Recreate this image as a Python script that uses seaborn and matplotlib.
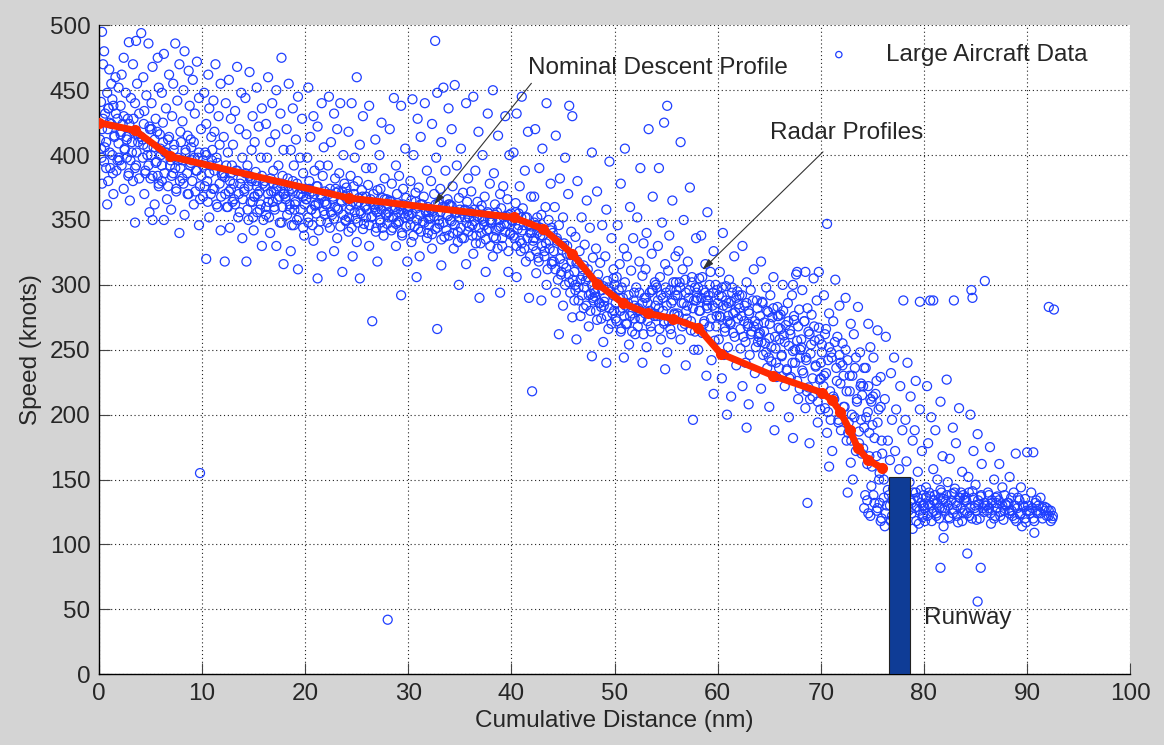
import pandas as pd
from matplotlib import pyplot as plt
import seaborn as sns

# radar track samples, (cumulative distance nm, speed knots)
# outer spread of the cloud
radar_00_10 = [
    (0.3, 495), (0.5, 480), (0.4, 470), (1.6, 460), (1.2, 455), (0.8, 448), (0.2, 441), (1.4, 438), (0.6, 432),
    (1.8, 428), (1.0, 425), (0.3, 420), (1.5, 415), (0.7, 410), (0.2, 405), (1.3, 400), (1.9, 398), (0.5, 395),
    (1.1, 390), (1.7, 388), (0.9, 380), (0.3, 378), (1.4, 370), (0.8, 362), (1.9, 452), (1.0, 466), (1.3, 443),
    (0.9, 436),
    (3.6, 488), (2.9, 487), (2.4, 475), (3.3, 470), (2.2, 462), (3.7, 455), (2.6, 448), (3.1, 444), (2.1, 438),
    (3.9, 432), (2.8, 428), (2.3, 424), (3.4, 418), (2.7, 414), (3.8, 410), (2.5, 405), (3.2, 402), (2.0, 396),
    (3.6, 392), (2.9, 386), (3.3, 380), (2.4, 374), (3.0, 365), (3.5, 348), (3.5, 440), (2.1, 416), (2.7, 398),
    (4.1, 494), (4.8, 486), (5.7, 475), (5.2, 468), (4.3, 460), (5.8, 452), (4.6, 446), (5.1, 440), (4.4, 434),
    (5.5, 428), (4.9, 422), (5.9, 416), (4.2, 412), (5.3, 406), (4.7, 400), (5.6, 395), (4.5, 388), (5.0, 382),
    (5.8, 376), (4.4, 370), (5.4, 362), (4.9, 356), (5.2, 350), (5.7, 384), (4.3, 408), (5.1, 420),
    (7.4, 486), (6.3, 478), (7.8, 470), (6.8, 462), (7.2, 455), (6.1, 448), (7.6, 442), (6.5, 436), (7.1, 430),
    (6.2, 425), (7.9, 418), (6.7, 412), (7.3, 408), (6.4, 402), (7.7, 396), (6.9, 392), (7.2, 386), (6.1, 380),
    (7.5, 374), (6.6, 366), (7.0, 358), (6.3, 350), (7.8, 340), (6.0, 400), (7.9, 390),
    (8.3, 480), (9.5, 472), (8.7, 465), (9.1, 458), (8.2, 450), (9.7, 444), (8.8, 438), (9.3, 432), (8.1, 426),
    (9.9, 420), (8.6, 415), (9.2, 410), (8.4, 404), (9.6, 398), (8.9, 394), (9.4, 388), (8.1, 382), (9.8, 376),
    (8.6, 370), (9.2, 362), (8.3, 354), (9.7, 346), (9.8, 155), (8.9, 412), (9.0, 396),
]
radar_10_20 = [
    (11.3, 470), (10.6, 462), (11.8, 455), (10.2, 448), (11.1, 442), (10.7, 436), (11.6, 430), (10.4, 424),
    (11.2, 418), (10.9, 414), (11.7, 408), (10.3, 402), (11.4, 398), (10.8, 392), (11.9, 386), (10.5, 380),
    (11.2, 374), (10.1, 368), (11.5, 360), (10.7, 352), (11.8, 342), (10.4, 320), (10.1, 396), (11.0, 404),
    (13.4, 468), (12.6, 458), (13.8, 448), (12.3, 440), (13.2, 434), (12.8, 428), (13.6, 420), (12.1, 414),
    (13.0, 408), (12.5, 402), (13.9, 398), (12.9, 392), (13.3, 388), (12.2, 383), (13.7, 378), (12.6, 372),
    (13.1, 366), (12.4, 360), (13.5, 352), (12.7, 344), (13.9, 336), (12.2, 318), (12.8, 386),
    (14.6, 464), (15.3, 452), (14.2, 444), (15.8, 436), (14.9, 430), (15.5, 422), (14.3, 416), (15.1, 410),
    (14.8, 404), (15.7, 398), (14.4, 392), (15.2, 387), (14.7, 382), (15.9, 378), (14.1, 374), (15.4, 370),
    (14.9, 364), (15.6, 358), (14.5, 350), (15.0, 342), (15.8, 330), (14.3, 318), (14.6, 384), (15.1, 368),
    (15.3, 376),
    (17.7, 475), (16.4, 460), (17.2, 450), (16.8, 440), (17.6, 432), (16.2, 424), (17.1, 416), (16.6, 410),
    (17.9, 404), (16.3, 398), (17.4, 392), (16.9, 388), (17.8, 384), (16.1, 380), (17.3, 376), (16.7, 372),
    (17.5, 368), (16.4, 364), (17.0, 360), (16.2, 354), (17.7, 348), (16.6, 340), (17.2, 330), (17.9, 316),
    (16.9, 378), (17.9, 370),
    (18.4, 455), (19.3, 445), (18.8, 436), (19.7, 428), (18.2, 420), (19.1, 412), (18.6, 404), (19.5, 398),
    (18.9, 392), (19.8, 386), (18.3, 382), (19.2, 378), (18.7, 374), (19.6, 370), (18.1, 366), (19.0, 362),
    (18.5, 358), (19.4, 352), (18.9, 346), (19.9, 338), (18.6, 326), (19.3, 312), (18.4, 372), (19.8, 368),
    (18.8, 380),
]
radar_20_30 = [
    (20.3, 452), (21.6, 440), (20.8, 430), (21.2, 422), (20.5, 414), (21.8, 406), (20.2, 398), (21.4, 392),
    (20.9, 388), (21.7, 384), (20.4, 380), (21.1, 376), (20.7, 372), (21.5, 369), (20.1, 366), (21.0, 362),
    (20.6, 358), (21.9, 354), (20.3, 348), (21.3, 342), (20.8, 334), (21.6, 322), (21.2, 305), (20.0, 374),
    (21.9, 364), (20.4, 370),
    (22.3, 445), (23.4, 440), (22.8, 432), (23.1, 420), (22.5, 410), (23.7, 400), (22.2, 392), (23.3, 386),
    (22.9, 382), (23.8, 378), (22.4, 374), (23.0, 371), (22.7, 368), (23.5, 365), (22.1, 362), (23.2, 358),
    (22.6, 354), (23.9, 350), (22.4, 344), (23.1, 336), (22.8, 326), (23.6, 310), (23.6, 372), (22.9, 360),
    (25.0, 460), (24.5, 440), (25.6, 430), (24.2, 418), (25.3, 408), (24.8, 398), (25.9, 390), (24.4, 384),
    (25.1, 380), (24.7, 376), (25.5, 373), (24.1, 370), (25.2, 367), (24.6, 364), (25.8, 361), (24.3, 358),
    (25.4, 355), (24.9, 351), (25.7, 347), (24.2, 341), (25.0, 333), (24.6, 322), (25.3, 305), (25.9, 368),
    (24.0, 375),
    (26.2, 438), (27.4, 425), (26.8, 412), (27.2, 400), (26.5, 390), (27.7, 382), (26.1, 377), (27.0, 373),
    (26.6, 370), (27.5, 367), (26.3, 364), (27.1, 361), (26.8, 358), (27.8, 355), (26.4, 352), (27.3, 348),
    (26.9, 344), (27.6, 338), (26.2, 330), (27.0, 318), (26.5, 272), (28.0, 42), (27.9, 366), (26.7, 360),
    (27.3, 374),
    (28.6, 444), (29.3, 438), (28.2, 420), (29.7, 405), (28.8, 392), (29.1, 384), (28.4, 378), (29.5, 374),
    (28.9, 370), (29.8, 367), (28.3, 364), (29.2, 361), (28.7, 358), (29.6, 355), (28.1, 352), (29.0, 348),
    (28.5, 344), (29.4, 338), (28.8, 330), (29.9, 318), (29.3, 292), (28.0, 362), (29.0, 356),
]
radar_30_40 = [
    (30.4, 443), (31.6, 440), (30.9, 428), (31.2, 414), (30.5, 400), (31.8, 388), (30.2, 380), (31.0, 375),
    (30.7, 371), (31.5, 368), (30.3, 365), (31.2, 362), (30.8, 359), (31.7, 356), (30.1, 353), (31.4, 349),
    (30.6, 345), (31.9, 340), (30.3, 333), (31.1, 322), (30.8, 306), (31.9, 360), (30.0, 354),
    (32.6, 488), (33.4, 452), (32.8, 448), (33.9, 436), (32.3, 424), (33.2, 410), (32.7, 398), (33.6, 388),
    (32.2, 380), (33.1, 374), (32.5, 370), (33.8, 366), (32.9, 363), (33.3, 360), (32.4, 357), (33.7, 354),
    (32.1, 351), (33.0, 347), (32.6, 343), (33.5, 337), (32.3, 328), (33.2, 315), (32.8, 266), (33.9, 362),
    (32.0, 356),
    (34.5, 454), (35.6, 440), (34.2, 420), (35.1, 405), (34.7, 392), (35.8, 382), (34.3, 376), (35.3, 371),
    (34.9, 367), (35.7, 364), (34.1, 361), (35.0, 358), (34.6, 355), (35.5, 352), (34.2, 349), (35.9, 345),
    (34.8, 341), (35.2, 336), (34.4, 328), (35.6, 316), (34.9, 300), (35.4, 357), (34.0, 362),
    (36.3, 445), (37.7, 432), (36.8, 418), (37.2, 400), (36.5, 388), (37.9, 378), (36.1, 372), (37.4, 368),
    (36.7, 364), (37.1, 361), (36.4, 358), (37.8, 355), (36.9, 352), (37.3, 349), (36.2, 346), (37.6, 342),
    (36.6, 338), (37.0, 332), (36.3, 324), (37.5, 310), (36.9, 290), (36.0, 356), (37.9, 350),
    (38.2, 450), (39.4, 430), (38.7, 415), (39.8, 400), (38.3, 386), (39.2, 376), (38.9, 370), (39.6, 366),
    (38.4, 362), (39.0, 359), (38.6, 356), (39.5, 353), (38.1, 350), (39.3, 347), (38.8, 344), (39.9, 340),
    (38.5, 336), (39.1, 330), (38.2, 322), (39.7, 310), (38.9, 294), (39.8, 354), (38.0, 348),
]
radar_40_50 = [
    (41.0, 445), (40.5, 432), (41.6, 418), (40.2, 402), (41.3, 388), (40.8, 376), (41.9, 368), (40.4, 363),
    (41.1, 359), (40.7, 355), (41.5, 352), (40.1, 349), (41.2, 346), (40.6, 343), (41.8, 340), (40.3, 336),
    (41.0, 332), (40.9, 326), (41.4, 318), (40.5, 306), (41.7, 290), (40.0, 350), (41.9, 345),
    (43.4, 440), (42.3, 420), (43.0, 405), (42.7, 390), (43.8, 378), (42.2, 368), (43.3, 360), (42.9, 354),
    (43.6, 350), (42.4, 346), (43.1, 342), (42.8, 338), (43.7, 334), (42.1, 330), (43.2, 326), (42.6, 321),
    (43.9, 316), (42.4, 309), (43.4, 300), (42.9, 288), (42.0, 218), (43.9, 344), (42.2, 336), (42.5, 352),
    (45.6, 438), (45.9, 430), (44.3, 415), (45.2, 398), (44.7, 382), (45.5, 370), (44.2, 360), (45.0, 352),
    (44.6, 346), (45.8, 341), (44.4, 336), (45.1, 332), (44.9, 327), (45.7, 323), (44.1, 318), (45.3, 313),
    (44.8, 308), (45.6, 302), (44.3, 294), (45.0, 284), (45.9, 275), (44.6, 262), (45.4, 330), (44.0, 340),
    (47.8, 402), (46.4, 380), (47.3, 365), (46.8, 352), (47.6, 344), (46.2, 337), (47.1, 331), (46.6, 326),
    (47.9, 321), (46.3, 317), (47.4, 312), (46.9, 307), (47.2, 303), (46.5, 298), (47.7, 293), (46.1, 288),
    (47.0, 282), (46.7, 276), (47.5, 268), (46.3, 258), (47.8, 245), (47.0, 315), (46.2, 300), (47.9, 290),
    (49.5, 395), (48.3, 372), (49.2, 358), (48.8, 346), (49.7, 336), (48.2, 328), (49.1, 322), (48.6, 317),
    (49.9, 312), (48.4, 308), (49.3, 303), (48.9, 299), (49.6, 295), (48.1, 291), (49.0, 287), (48.7, 283),
    (49.8, 278), (48.3, 273), (49.4, 266), (48.9, 256), (49.2, 240), (48.0, 296), (49.9, 305), (48.5, 286),
]
radar_50_60 = [
    (51.0, 405), (50.6, 378), (51.5, 360), (50.3, 346), (51.8, 336), (50.9, 328), (51.2, 322), (50.5, 316),
    (51.6, 311), (50.2, 306), (51.0, 302), (50.7, 298), (51.9, 294), (50.4, 290), (51.3, 286), (50.8, 282),
    (51.7, 278), (50.1, 274), (51.1, 270), (50.6, 264), (51.4, 254), (50.9, 244), (50.0, 300), (51.9, 284),
    (53.3, 420), (52.5, 390), (53.7, 368), (52.2, 352), (53.1, 340), (52.8, 332), (53.6, 324), (52.4, 318),
    (53.0, 312), (52.7, 307), (53.9, 302), (52.1, 298), (53.4, 294), (52.9, 290), (53.2, 286), (52.3, 282),
    (53.8, 278), (52.6, 274), (53.5, 268), (52.0, 262), (53.1, 252), (52.7, 240), (53.6, 296), (52.4, 280),
    (55.1, 438), (54.8, 425), (54.3, 390), (55.6, 365), (54.6, 348), (55.3, 338), (54.2, 330), (55.9, 322),
    (54.9, 316), (55.2, 311), (54.4, 306), (55.7, 302), (54.1, 298), (55.0, 294), (54.7, 290), (55.5, 286),
    (54.3, 282), (55.8, 277), (54.8, 272), (55.4, 266), (54.5, 258), (55.1, 248), (54.9, 235), (55.9, 292),
    (54.0, 300),
    (56.4, 410), (57.3, 375), (56.7, 350), (57.9, 336), (56.2, 326), (57.1, 318), (56.6, 312), (57.5, 306),
    (56.3, 302), (57.8, 298), (56.9, 294), (57.2, 290), (56.5, 286), (57.6, 282), (56.1, 278), (57.0, 274),
    (56.8, 270), (57.4, 265), (56.4, 258), (57.7, 250), (56.9, 238), (57.6, 196), (57.9, 288), (56.0, 296),
    (59.0, 356), (58.4, 338), (59.6, 326), (58.8, 316), (59.3, 310), (58.2, 305), (59.8, 300), (58.6, 296),
    (59.1, 292), (58.9, 288), (59.5, 284), (58.3, 280), (59.9, 276), (58.7, 272), (59.2, 268), (58.5, 263),
    (59.7, 257), (58.1, 250), (59.4, 242), (58.9, 230), (59.6, 216), (58.0, 290), (59.0, 282),
]
radar_60_70 = [
    (60.5, 340), (61.6, 322), (60.2, 310), (61.1, 304), (60.8, 299), (61.9, 295), (60.4, 291), (61.3, 287),
    (60.9, 283), (61.7, 279), (60.3, 275), (61.2, 271), (60.7, 267), (61.5, 263), (60.1, 258), (61.0, 252),
    (60.6, 246), (61.8, 238), (60.4, 228), (61.3, 214), (60.9, 200), (61.0, 276), (60.0, 286), (61.4, 298),
    (62.4, 330), (63.5, 312), (62.8, 302), (63.2, 296), (62.1, 292), (63.8, 288), (62.6, 284), (63.0, 280),
    (62.3, 276), (63.6, 272), (62.9, 268), (63.3, 264), (62.5, 260), (63.9, 256), (62.2, 251), (63.1, 246),
    (62.7, 240), (63.6, 232), (62.4, 222), (63.0, 208), (62.8, 190), (63.9, 270), (62.0, 285),
    (64.2, 318), (65.4, 306), (64.7, 298), (65.1, 292), (64.3, 287), (65.8, 283), (64.9, 279), (65.3, 275),
    (64.5, 271), (65.9, 267), (64.1, 263), (65.0, 259), (64.6, 255), (65.6, 251), (64.4, 246), (65.2, 241),
    (64.8, 236), (65.7, 229), (64.2, 220), (65.0, 206), (65.5, 188), (64.0, 262), (65.9, 276),
    (67.6, 308), (66.3, 300), (67.2, 292), (66.8, 286), (67.9, 281), (66.1, 277), (67.4, 273), (66.6, 269),
    (67.0, 265), (66.4, 261), (67.7, 257), (66.9, 253), (67.3, 249), (66.2, 245), (67.5, 240), (66.7, 235),
    (67.1, 229), (66.5, 222), (67.8, 212), (66.9, 198), (67.3, 182), (66.0, 258), (68.0, 244), (67.7, 310),
    (67.3, 300),
    (69.3, 305), (68.2, 296), (69.6, 288), (68.7, 282), (69.1, 277), (68.4, 272), (69.8, 267), (68.9, 262),
    (69.4, 257), (68.1, 252), (69.0, 247), (68.6, 242), (69.5, 237), (68.3, 232), (69.9, 227), (68.8, 221),
    (69.2, 214), (68.5, 205), (69.7, 194), (68.9, 178), (68.7, 132), (68.0, 250), (70.0, 240), (68.5, 310),
    (69.8, 310),
]
radar_70_80 = [
    (70.6, 347), (71.4, 304), (70.3, 292), (71.8, 284), (70.8, 278), (71.2, 272), (70.5, 266), (71.6, 260),
    (70.1, 254), (71.0, 248), (70.7, 242), (71.5, 236), (70.3, 230), (71.9, 224), (70.9, 218), (71.3, 212),
    (70.4, 205), (71.7, 196), (70.6, 186), (71.1, 172), (70.8, 160), (71.9, 240), (70.0, 228),
    (72.4, 290), (73.6, 283), (72.9, 270), (73.2, 262), (72.1, 255), (73.8, 248), (72.6, 242), (73.3, 236),
    (72.2, 230), (73.9, 224), (72.8, 218), (73.5, 212), (72.3, 206), (73.0, 200), (72.7, 194), (73.7, 187),
    (72.5, 180), (73.4, 172), (72.9, 163), (73.1, 150), (72.6, 140), (74.0, 215), (73.9, 196),
    (74.6, 270), (75.5, 265), (74.8, 252), (75.1, 244), (74.2, 236), (75.8, 229), (74.6, 222), (75.3, 216),
    (74.9, 210), (75.6, 204), (74.4, 198), (75.0, 192), (74.7, 186), (75.9, 180), (74.1, 174), (75.4, 168),
    (74.5, 162), (75.7, 155), (74.9, 145), (75.2, 132), (74.6, 124), (75.8, 118), (75.5, 128), (74.3, 138),
    (78.0, 288), (76.3, 260), (77.1, 244), (76.8, 232), (77.7, 222), (76.2, 212), (77.3, 204), (76.9, 196),
    (77.9, 188), (76.5, 180), (77.2, 172), (76.7, 165), (77.6, 158), (76.1, 150), (77.0, 143), (76.6, 138),
    (77.8, 134), (76.4, 130), (77.3, 126), (76.9, 122), (77.7, 118), (76.2, 114), (78.0, 136), (78.0, 128),
    (79.6, 287), (78.4, 240), (79.2, 226), (78.7, 214), (79.6, 204), (78.2, 196), (79.1, 188), (78.9, 180),
    (79.8, 172), (78.3, 164), (79.4, 156), (78.6, 148), (79.7, 142), (78.1, 138), (79.0, 135), (78.8, 132),
    (79.3, 129), (78.5, 126), (79.9, 123), (78.2, 120), (79.5, 116), (78.9, 112), (79.2, 140), (79.9, 130),
]
radar_80_93 = [
    (80.6, 288), (80.9, 288), (80.3, 222), (81.6, 210), (80.7, 198), (81.1, 188), (80.4, 178), (81.8, 168),
    (80.9, 158), (81.3, 150), (80.2, 144), (81.7, 140), (80.6, 137), (81.0, 134), (80.4, 131), (81.5, 128),
    (80.8, 125), (81.2, 122), (80.1, 118), (81.9, 114), (81.9, 105), (81.6, 82), (81.6, 136), (80.0, 130),
    (82.2, 227), (83.4, 205), (82.8, 190), (83.1, 178), (82.5, 166), (83.7, 156), (82.3, 148), (83.0, 143),
    (82.7, 139), (83.5, 136), (82.1, 133), (83.2, 130), (82.9, 127), (83.8, 124), (82.4, 121), (83.3, 117),
    (83.9, 134), (82.0, 128), (83.6, 140), (82.9, 288),
    (85.9, 303), (84.6, 296), (84.7, 290), (84.5, 200), (85.2, 185), (84.8, 172), (85.6, 162), (84.3, 152),
    (85.0, 146), (84.7, 141), (85.5, 137), (84.1, 134), (85.3, 131), (84.9, 128), (85.8, 125), (84.4, 122),
    (85.1, 119), (84.2, 93), (85.5, 82), (85.2, 56), (84.0, 136), (85.9, 130),
    (86.4, 175), (87.3, 162), (86.8, 150), (87.6, 144), (86.2, 140), (87.1, 137), (86.6, 134), (87.9, 131),
    (86.3, 128), (87.4, 125), (86.9, 122), (87.7, 119), (86.5, 116), (87.0, 132), (87.8, 138), (86.1, 126),
    (88.9, 170), (88.3, 152), (89.4, 144), (88.7, 140), (89.1, 136), (88.2, 132), (89.7, 129), (88.5, 126),
    (89.3, 123), (88.8, 120), (89.9, 117), (89.5, 114), (88.0, 130), (89.8, 135), (88.3, 124),
    (90.0, 171), (90.6, 171), (90.4, 140), (91.3, 136), (90.8, 132), (91.7, 129), (90.2, 126), (91.0, 124),
    (91.9, 122), (90.6, 120), (92.3, 118), (92.1, 126), (92.5, 122), (90.7, 109), (92.1, 283), (92.6, 281),
    (91.5, 128), (90.9, 134),
]

# dense core of the cloud
core_00_20 = [
    (0.1, 412), (0.25, 398), (0.4, 428), (0.55, 406), (0.7, 390), (0.85, 420), (0.95, 436),
    (1.05, 402), (1.2, 424), (1.35, 386), (1.5, 414), (1.65, 432), (1.8, 396), (1.9, 409),
    (2.1, 418), (2.2, 392), (2.4, 430), (2.5, 404), (2.7, 412), (2.85, 384), (2.95, 424),
    (3.05, 396), (3.2, 410), (3.35, 428), (3.5, 390), (3.65, 402), (3.75, 416), (3.9, 382),
    (4.1, 414), (4.25, 398), (4.35, 424), (4.5, 386), (4.7, 406), (4.8, 392), (4.95, 420),
    (5.05, 400), (5.2, 384), (5.4, 412), (5.5, 394), (5.65, 418), (5.8, 378), (5.95, 405),
    (6.1, 392), (6.2, 410), (6.35, 386), (6.55, 402), (6.7, 376), (6.8, 414), (6.95, 396),
    (7.05, 384), (7.25, 404), (7.4, 390), (7.5, 372), (7.65, 398), (7.85, 380), (7.95, 410),
    (8.1, 396), (8.2, 378), (8.4, 402), (8.55, 386), (8.7, 370), (8.85, 392), (8.95, 406),
    (9.05, 380), (9.25, 398), (9.35, 372), (9.5, 388), (9.7, 402), (9.8, 366), (9.95, 384),
    (10.1, 392), (10.25, 376), (10.4, 400), (10.55, 364), (10.7, 386), (10.85, 370), (10.95, 396),
    (11.05, 374), (11.2, 388), (11.4, 362), (11.5, 394), (11.7, 378), (11.85, 368), (11.95, 384),
    (12.1, 386), (12.25, 370), (12.35, 392), (12.5, 360), (12.7, 380), (12.8, 374), (12.95, 364),
    (13.05, 378), (13.2, 362), (13.4, 388), (13.55, 370), (13.65, 356), (13.8, 382), (13.95, 366),
    (14.1, 372), (14.2, 386), (14.4, 358), (14.5, 376), (14.7, 364), (14.8, 380), (14.95, 352),
    (15.05, 368), (15.25, 380), (15.35, 356), (15.55, 372), (15.7, 362), (15.8, 384), (15.95, 350),
    (16.1, 376), (16.2, 360), (16.4, 370), (16.5, 352), (16.65, 382), (16.85, 364), (16.95, 372),
    (17.05, 358), (17.2, 374), (17.35, 366), (17.55, 348), (17.7, 378), (17.8, 360), (17.95, 370),
    (18.1, 368), (18.25, 354), (18.4, 376), (18.5, 362), (18.7, 346), (18.8, 372), (18.95, 358),
    (19.05, 364), (19.2, 350), (19.35, 370), (19.55, 358), (19.7, 374), (19.8, 344), (19.95, 362),
]
core_20_40 = [
    (20.1, 366), (20.3, 352), (20.4, 374), (20.6, 358), (20.7, 346), (20.9, 370), (20.95, 361),
    (21.05, 355), (21.2, 376), (21.3, 363), (21.5, 349), (21.6, 368), (21.8, 357), (21.9, 372),
    (22.0, 362), (22.15, 348), (22.3, 370), (22.5, 356), (22.65, 366), (22.8, 351), (22.95, 374),
    (23.1, 359), (23.2, 372), (23.4, 345), (23.55, 364), (23.7, 354), (23.85, 368), (23.95, 349),
    (24.05, 366), (24.25, 352), (24.4, 361), (24.5, 344), (24.7, 370), (24.8, 356), (24.95, 362),
    (25.1, 348), (25.2, 364), (25.35, 357), (25.55, 368), (25.6, 343), (25.8, 360), (25.9, 352),
    (26.0, 358), (26.2, 346), (26.35, 366), (26.5, 353), (26.7, 362), (26.85, 341), (26.95, 356),
    (27.1, 363), (27.25, 350), (27.4, 358), (27.5, 344), (27.7, 366), (27.85, 354), (27.95, 347),
    (28.05, 356), (28.2, 365), (28.35, 342), (28.55, 352), (28.7, 360), (28.8, 347), (28.95, 363),
    (29.1, 349), (29.25, 358), (29.4, 340), (29.5, 362), (29.65, 352), (29.8, 345), (29.95, 357),
    (30.05, 360), (30.2, 346), (30.4, 355), (30.5, 338), (30.7, 364), (30.85, 350), (30.95, 343),
    (31.1, 354), (31.2, 341), (31.35, 362), (31.55, 348), (31.7, 357), (31.8, 336), (31.95, 351),
    (32.0, 346), (32.2, 358), (32.3, 339), (32.5, 353), (32.65, 362), (32.8, 344), (32.95, 350),
    (33.1, 356), (33.2, 335), (33.4, 348), (33.55, 360), (33.7, 342), (33.85, 353), (33.95, 338),
    (34.05, 350), (34.2, 361), (34.35, 340), (34.5, 346), (34.7, 356), (34.8, 333), (34.95, 352),
    (35.1, 344), (35.25, 355), (35.4, 336), (35.5, 358), (35.65, 348), (35.8, 341), (35.9, 352),
    (36.05, 356), (36.2, 338), (36.4, 349), (36.55, 332), (36.7, 353), (36.85, 344), (36.95, 358),
    (37.1, 340), (37.2, 351), (37.35, 346), (37.5, 335), (37.7, 356), (37.8, 343), (37.95, 330),
    (38.05, 348), (38.25, 337), (38.4, 354), (38.5, 342), (38.65, 328), (38.8, 350), (38.95, 345),
    (39.1, 336), (39.25, 352), (39.4, 341), (39.55, 347), (39.7, 326), (39.85, 339), (39.95, 355),
]
core_40_60 = [
    (40.1, 350), (40.2, 338), (40.4, 356), (40.5, 330), (40.7, 346), (40.85, 334), (40.95, 352),
    (41.05, 342), (41.25, 328), (41.35, 352), (41.55, 336), (41.7, 346), (41.8, 322), (41.95, 340),
    (42.1, 334), (42.2, 348), (42.4, 326), (42.5, 340), (42.65, 318), (42.8, 344), (42.95, 330),
    (43.05, 338), (43.2, 322), (43.35, 332), (43.5, 312), (43.7, 328), (43.8, 342), (43.95, 318),
    (44.1, 326), (44.25, 312), (44.4, 334), (44.5, 304), (44.7, 320), (44.85, 310), (44.95, 330),
    (45.05, 316), (45.2, 300), (45.35, 324), (45.55, 308), (45.7, 294), (45.8, 318), (45.95, 304),
    (46.1, 310), (46.2, 296), (46.4, 318), (46.5, 288), (46.7, 304), (46.85, 292), (46.95, 312),
    (47.05, 298), (47.25, 284), (47.4, 306), (47.5, 292), (47.65, 280), (47.8, 300), (47.95, 288),
    (48.1, 294), (48.2, 280), (48.35, 302), (48.55, 286), (48.7, 274), (48.8, 296), (48.95, 284),
    (49.05, 290), (49.25, 276), (49.4, 298), (49.5, 282), (49.7, 270), (49.85, 292), (49.95, 280),
    (50.1, 286), (50.2, 272), (50.4, 296), (50.55, 280), (50.65, 266), (50.8, 290), (50.95, 276),
    (51.05, 284), (51.2, 270), (51.35, 292), (51.5, 276), (51.7, 264), (51.85, 288), (51.95, 274),
    (52.1, 282), (52.25, 268), (52.4, 294), (52.5, 274), (52.7, 286), (52.8, 262), (52.95, 278),
    (53.05, 290), (53.2, 272), (53.4, 280), (53.55, 264), (53.7, 296), (53.85, 276), (53.95, 284),
    (54.1, 276), (54.2, 288), (54.35, 266), (54.5, 292), (54.7, 280), (54.8, 270), (54.95, 298),
    (55.05, 284), (55.25, 272), (55.4, 296), (55.5, 262), (55.65, 288), (55.8, 278), (55.95, 302),
    (56.1, 292), (56.2, 276), (56.35, 298), (56.55, 268), (56.7, 286), (56.85, 304), (56.95, 280),
    (57.05, 284), (57.25, 296), (57.4, 272), (57.5, 302), (57.7, 288), (57.8, 264), (57.95, 294),
    (58.1, 298), (58.2, 280), (58.4, 290), (58.5, 306), (58.65, 270), (58.8, 294), (58.95, 284),
    (59.05, 288), (59.2, 300), (59.35, 274), (59.55, 294), (59.7, 282), (59.85, 268), (59.95, 296),
]
core_60_76 = [
    (60.1, 292), (60.2, 276), (60.4, 298), (60.55, 284), (60.7, 264), (60.8, 288), (60.95, 272),
    (61.05, 286), (61.25, 270), (61.4, 294), (61.5, 278), (61.65, 260), (61.8, 290), (61.95, 274),
    (62.1, 282), (62.2, 266), (62.35, 292), (62.55, 272), (62.7, 256), (62.8, 286), (62.95, 270),
    (63.05, 278), (63.2, 262), (63.4, 288), (63.5, 268), (63.7, 252), (63.85, 282), (63.95, 260),
    (64.1, 276), (64.25, 256), (64.35, 286), (64.5, 264), (64.7, 248), (64.8, 280), (64.95, 244),
    (65.05, 270), (65.2, 252), (65.4, 282), (65.55, 260), (65.65, 240), (65.8, 276), (65.95, 236),
    (66.1, 266), (66.2, 246), (66.35, 280), (66.5, 256), (66.7, 234), (66.85, 272), (66.95, 228),
    (67.05, 262), (67.25, 240), (67.4, 276), (67.5, 250), (67.7, 226), (67.8, 268), (67.95, 220),
    (68.1, 258), (68.2, 234), (68.4, 272), (68.55, 244), (68.65, 218), (68.8, 264), (68.95, 212),
    (69.05, 254), (69.2, 228), (69.35, 268), (69.5, 238), (69.7, 210), (69.85, 258), (69.95, 204),
    (70.1, 248), (70.25, 222), (70.4, 262), (70.5, 232), (70.7, 202), (70.8, 252), (70.95, 196),
    (71.05, 244), (71.2, 214), (71.35, 256), (71.55, 226), (71.7, 194), (71.8, 246), (71.95, 188),
    (72.1, 238), (72.2, 206), (72.4, 250), (72.5, 218), (72.65, 186), (72.8, 230), (72.95, 180),
    (73.05, 230), (73.25, 198), (73.4, 244), (73.5, 210), (73.7, 178), (73.85, 222), (73.95, 170),
    (74.1, 222), (74.2, 190), (74.35, 236), (74.55, 202), (74.7, 168), (74.8, 212), (74.95, 160),
    (75.05, 214), (75.2, 182), (75.4, 226), (75.5, 194), (75.65, 150), (75.8, 206), (75.95, 170),
]
core_74_93 = [
    (74.2, 128), (74.5, 134), (74.8, 122), (75.1, 138), (75.4, 126), (75.7, 132), (75.9, 120),
    (76.1, 136), (76.3, 124), (76.5, 142), (76.7, 130), (76.8, 118), (76.95, 134),
    (78.7, 134), (78.8, 124), (78.95, 140), (79.1, 128), (79.25, 118), (79.4, 136), (79.55, 126),
    (79.7, 132), (79.85, 121), (79.95, 138),
    (80.05, 128), (80.2, 136), (80.35, 122), (80.5, 140), (80.6, 130), (80.75, 118), (80.9, 134), (80.95, 126),
    (81.05, 138), (81.2, 124), (81.3, 132), (81.45, 120), (81.6, 142), (81.75, 128), (81.9, 135),
    (82.05, 126), (82.2, 138), (82.35, 130), (82.5, 120), (82.65, 134), (82.8, 124), (82.95, 140),
    (83.1, 132), (83.2, 122), (83.4, 136), (83.55, 128), (83.7, 118), (83.8, 138), (83.95, 126),
    (84.05, 134), (84.2, 124), (84.35, 140), (84.5, 128), (84.65, 120), (84.8, 136), (84.95, 130),
    (85.1, 126), (85.25, 134), (85.4, 120), (85.55, 138), (85.7, 128), (85.85, 132),
    (86.1, 130), (86.3, 138), (86.45, 124), (86.6, 132), (86.8, 120), (86.95, 136),
    (87.05, 128), (87.25, 134), (87.4, 122), (87.6, 130), (87.8, 126),
    (88.1, 132), (88.3, 126), (88.45, 136), (88.6, 122), (88.8, 130), (88.95, 118),
    (89.05, 128), (89.25, 134), (89.4, 124), (89.6, 130), (89.8, 120), (89.95, 126),
    (90.1, 130), (90.3, 124), (90.5, 128), (90.7, 118), (90.9, 126),
    (91.1, 130), (91.3, 124), (91.5, 120), (91.7, 126), (91.9, 128),
    (92.1, 122), (92.3, 126), (92.45, 120),
]

# nominal descent profile (red line)
profile_dist = [0, 3.5, 6.9, 24.2, 40.2, 43.1, 45.9, 48.3, 50.8, 53.2, 55.7, 58.1, 60.3, 65.4,
                70.1, 71.1, 71.9, 72.8, 73.6, 74.6, 75.9]
profile_speed = [425, 419, 399, 367, 352, 343, 324, 301, 286, 278, 274, 267, 247, 230,
                 217, 211, 202, 188, 174, 165, 159]

# runway block
runway_center = 77.6
runway_width = 2.0
runway_height = 152


def main() -> None:
    sns.set_style('white')
    plt.rcParams['font.family'] = ['Liberation Sans', 'DejaVu Sans']

    groups = [radar_00_10, radar_10_20, radar_20_30, radar_30_40, radar_40_50,
              radar_50_60, radar_60_70, radar_70_80, radar_80_93,
              core_00_20, core_20_40, core_40_60, core_60_76, core_74_93]
    df = pd.DataFrame([p for g in groups for p in g], columns=['dist', 'speed'])

    fig = plt.figure(figsize=(11.64, 7.45), dpi=100, facecolor='#d4d4d4')
    ax = fig.add_axes([0.085, 0.095, 0.886, 0.871])
    ax.set_facecolor('white')

    sns.scatterplot(data=df, x='dist', y='speed', ax=ax, s=42, marker='o',
                    label='Large Aircraft Data', zorder=2)
    pts = ax.collections[0]
    pts.set_facecolor('none')
    pts.set_edgecolor('#1f3fff')
    pts.set_linewidth(0.9)

    sns.lineplot(x=profile_dist, y=profile_speed, ax=ax, color='#ff2a00', lw=5,
                 marker='o', markersize=8, markeredgewidth=0, sort=False, zorder=3)

    ax.bar(runway_center, runway_height, width=runway_width, color='#0f3c96',
           edgecolor='#222222', linewidth=0.8, zorder=4)

    ax.annotate('', xy=(32.3, 360), xytext=(42.1, 457),
                arrowprops=dict(arrowstyle='-|>,head_length=0.7,head_width=0.2',
                                color='#333333', lw=0.8))
    ax.text(41.6, 467, 'Nominal Descent Profile', fontsize=17.5, va='center', ha='left')
    ax.annotate('', xy=(58.3, 310), xytext=(70.4, 404),
                arrowprops=dict(arrowstyle='-|>,head_length=0.7,head_width=0.2',
                                color='#333333', lw=0.8))
    ax.text(65.1, 417, 'Radar Profiles', fontsize=17.5, va='center', ha='left')
    ax.text(80.0, 43, 'Runway', fontsize=17.5, va='center', ha='left')

    ax.set_xlim(0, 100)
    ax.set_ylim(0, 500)
    ax.set_xticks(range(0, 101, 10))
    ax.set_yticks(range(0, 501, 50))
    ax.grid(True, color='#222222', linestyle=(0, (1, 2.5)), linewidth=0.8)
    ax.set_axisbelow(True)
    for side in ['top', 'right']:
        ax.spines[side].set_visible(False)
    for side in ['left', 'bottom']:
        ax.spines[side].set_color('black')
        ax.spines[side].set_linewidth(1.0)

    ax.tick_params(direction='in', length=8, width=0.8, color='#444444',
                   labelsize=17.5, pad=6, bottom=True, left=True)
    ax.set_xlabel('Cumulative Distance (nm)', fontsize=17.5, labelpad=4)
    ax.set_ylabel('Speed (knots)', fontsize=17.5, labelpad=6)

    ax.legend(loc='upper right', bbox_to_anchor=(0.98, 1.005), frameon=False,
              fontsize=17.5, markerscale=0.7, handletextpad=1.2, handlelength=1.5)

    fig.savefig('out.png', dpi=100, facecolor=fig.get_facecolor())


if __name__ == '__main__':
    main()
